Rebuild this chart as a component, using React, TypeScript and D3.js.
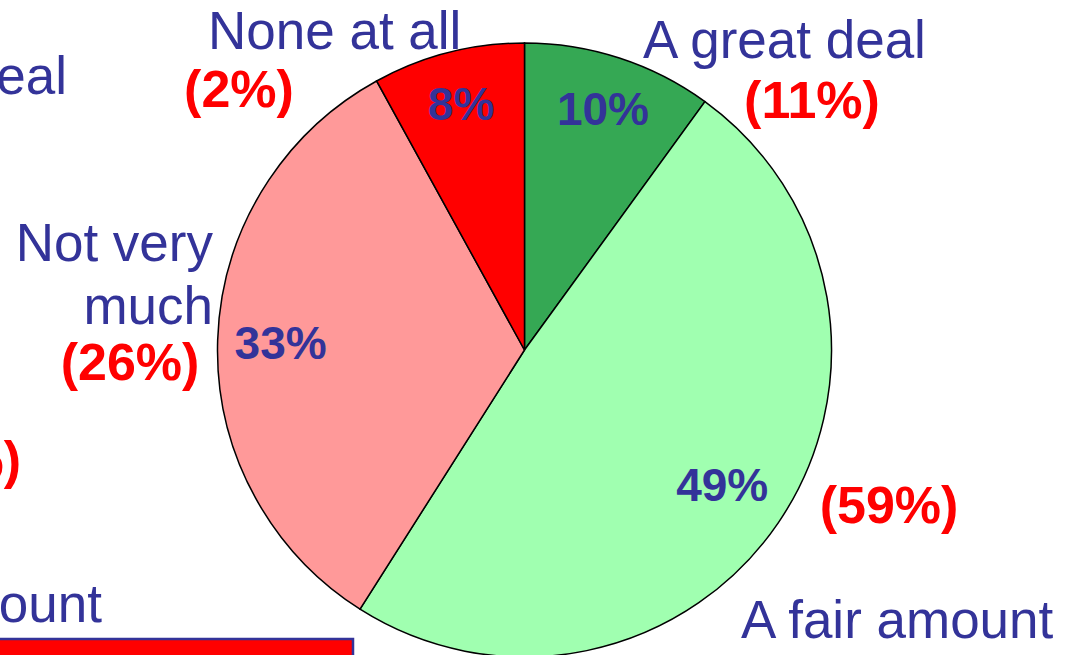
import React from 'react';
import * as d3 from 'd3';

// slices, clockwise from 12 o'clock
const categories = ['A great deal', 'A fair amount', 'Not very much', 'None at all'];
const shares = [10, 49, 33, 8];
const earlierShares = [11, 59, 26, 2];

// labels of the neighbouring chart, cut off by the left edge
const leftCategories = ['A great deal', 'A fair amount'];
const leftShare = 26;

const colors = ['#35a854', '#a0ffb0', '#ff9999', '#ff0000'];
const BLUE = '#333399';
const RED = '#ff0000';
const FONT = 'Liberation Sans, Arial, sans-serif';

const width = 1069;
const height = 655;
const cx = 524.5;
const cy = 350;
const radius = 307;

// distance of each inside figure from the centre
const innerLabelRadius = [254, 239, 244, 255];

// where the outside labels sit (name lines, then the red figure)
const outer = [
  { lines: [{ x: 643, y: 58 }], anchor: 'start', pct: { x: 812, y: 118 }, pctAnchor: 'middle' },
  { lines: [{ x: 741, y: 638 }], anchor: 'start', pct: { x: 889, y: 523 }, pctAnchor: 'middle' },
  { lines: [{ x: 213, y: 261 }, { x: 213, y: 324 }], anchor: 'end', pct: { x: 130, y: 380 }, pctAnchor: 'middle' },
  { lines: [{ x: 208, y: 49 }], anchor: 'start', pct: { x: 239, y: 107 }, pctAnchor: 'middle' },
];

const splitName = (name: string, n: number) => {
  if (n === 1) return [name];
  const words = name.split(' ');
  return [words.slice(0, 2).join(' '), words.slice(2).join(' ')];
};

export default function App() {
  const pie = d3.pie<number>().sort(null).value(d => d)(shares);
  const arc = d3.arc<d3.PieArcDatum<number>>().innerRadius(0).outerRadius(radius);

  return (
    <svg
      width={width}
      height={height}
      style={{ position: 'fixed', left: 0, top: 0, background: '#fff' }}
      fontFamily={FONT}
    >
      {/* pieces of the chart to the left */}
      <text x={67} y={94} textAnchor="end" fontSize={53} fill={BLUE}>{leftCategories[0]}</text>
      <text x={21} y={478} textAnchor="end" fontSize={52} fontWeight="bold" fill={RED}>{`(${leftShare}%)`}</text>
      <text x={102} y={622} textAnchor="end" fontSize={53} fill={BLUE}>{leftCategories[1]}</text>
      <rect x={-10} y={639} width={363} height={40} fill={RED} stroke={BLUE} strokeWidth={2.5} />

      <g transform={`translate(${cx},${cy})`}>
        {pie.map((d, i) => (
          <path key={i} d={arc(d) || ''} fill={colors[i]} stroke="#000" strokeWidth={1.5} />
        ))}
        {pie.map((d, i) => {
          const r = innerLabelRadius[i];
          const [x, y] = d3.arc<d3.PieArcDatum<number>>().innerRadius(r).outerRadius(r).centroid(d);
          return (
            <text key={i} x={x} y={y} dy="0.36em" textAnchor="middle" fontSize={46} fontWeight="bold" fill={BLUE}>
              {`${shares[i]}%`}
            </text>
          );
        })}
      </g>

      {categories.map((c, i) => {
        const o = outer[i];
        const names = splitName(c, o.lines.length);
        return (
          <g key={c}>
            {o.lines.map((p, j) => (
              <text key={j} x={p.x} y={p.y} textAnchor={o.anchor} fontSize={53} fill={BLUE}>{names[j]}</text>
            ))}
            <text x={o.pct.x} y={o.pct.y} textAnchor={o.pctAnchor} fontSize={52} fontWeight="bold" fill={RED}>
              {`(${earlierShares[i]}%)`}
            </text>
          </g>
        );
      })}
    </svg>
  );
}
